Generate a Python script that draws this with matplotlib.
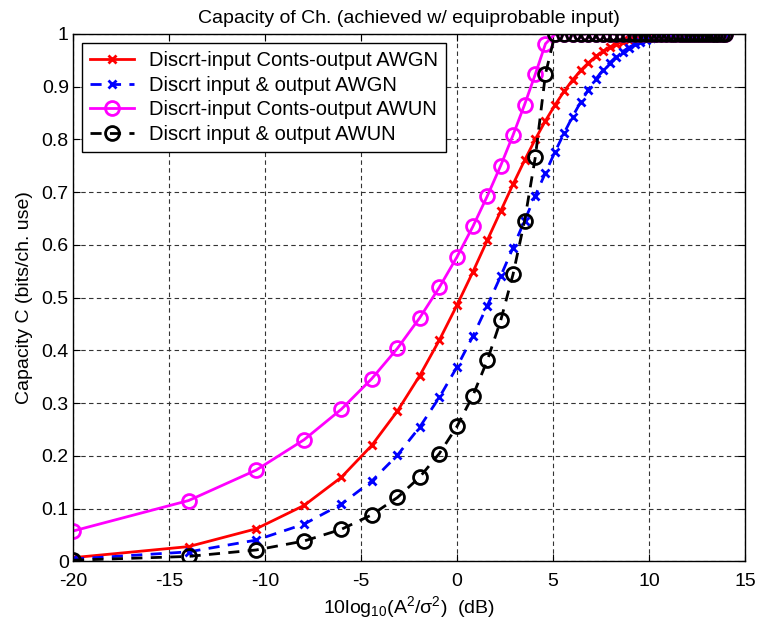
import matplotlib
matplotlib.use("Agg")
import matplotlib.pyplot as plt

plt.rcParams["font.family"] = ["Liberation Sans", "DejaVu Sans"]
plt.rcParams["mathtext.fontset"] = "custom"
plt.rcParams["mathtext.rm"] = "Liberation Sans"
plt.rcParams["mathtext.it"] = "Liberation Sans"
plt.rcParams["axes.unicode_minus"] = False

# SNR in dB, 10log10(A^2/sigma^2)
snr_db = [-20.00, -13.98, -10.46, -7.96, -6.02, -4.44, -3.10, -1.94, -0.92, 0.00,
          0.83, 1.58, 2.28, 2.92, 3.52, 4.08, 4.61, 5.11, 5.58, 6.02,
          6.44, 6.85, 7.23, 7.60, 7.96, 8.30, 8.63, 8.94, 9.25, 9.54,
          9.83, 10.10, 10.37, 10.63, 10.88, 11.13, 11.36, 11.60, 11.82, 12.04,
          12.26, 12.46, 12.67, 12.87, 13.06, 13.26, 13.44, 13.62, 13.80, 13.98]

# discrete input, continuous output, AWGN
cap_awgn_cont = [0.0072, 0.0282, 0.0619, 0.1063, 0.1597, 0.2200, 0.2853, 0.3523, 0.4195, 0.4859,
                 0.5491, 0.6090, 0.6645, 0.7151, 0.7604, 0.8005, 0.8355, 0.8656, 0.8913, 0.9128,
                 0.9308, 0.9455, 0.9575, 0.9671, 0.9748, 0.9808, 0.9855, 0.9891, 0.9920, 0.9941,
                 0.9957, 0.9969, 0.9978, 0.9984, 0.9989, 0.9992, 0.9995, 0.9996, 0.9997, 0.9998,
                 0.9999, 0.9999, 1.0, 1.0, 1.0, 1.0, 1.0, 1.0, 1.0, 1.0]

# discrete input & output, AWGN
cap_awgn_disc = [0.0046, 0.0182, 0.0405, 0.0709, 0.1086, 0.1524, 0.2016, 0.2548, 0.3110, 0.3688,
                 0.4271, 0.4848, 0.5412, 0.5950, 0.6461, 0.6935, 0.7370, 0.7768, 0.8122, 0.8434,
                 0.8707, 0.8943, 0.9145, 0.9314, 0.9455, 0.9572, 0.9667, 0.9743, 0.9804, 0.9852,
                 0.9889, 0.9918, 0.9940, 0.9956, 0.9969, 0.9978, 0.9984, 0.9989, 0.9992, 0.9995,
                 0.9997, 0.9998, 0.9999, 0.9999, 1.0, 1.0, 1.0, 1.0, 1.0, 1.0]

# discrete input, continuous output, AWUN
cap_awun_cont = [0.0577, 0.1155, 0.1732, 0.2309, 0.2887, 0.3464, 0.4041, 0.4619, 0.5196, 0.5774,
                 0.6351, 0.6928, 0.7506, 0.8083, 0.8660, 0.9238, 0.9815, 1.0, 1.0, 1.0,
                 1.0, 1.0, 1.0, 1.0, 1.0, 1.0, 1.0, 1.0, 1.0, 1.0,
                 1.0, 1.0, 1.0, 1.0, 1.0, 1.0, 1.0, 1.0, 1.0, 1.0,
                 1.0, 1.0, 1.0, 1.0, 1.0, 1.0, 1.0, 1.0, 1.0, 1.0]

# discrete input & output, AWUN
cap_awun_disc = [0.0024, 0.0096, 0.0218, 0.0388, 0.0610, 0.0884, 0.1213, 0.1599, 0.2046, 0.2560,
                 0.3146, 0.3812, 0.4572, 0.5443, 0.6454, 0.7664, 0.9242, 1.0, 1.0, 1.0,
                 1.0, 1.0, 1.0, 1.0, 1.0, 1.0, 1.0, 1.0, 1.0, 1.0,
                 1.0, 1.0, 1.0, 1.0, 1.0, 1.0, 1.0, 1.0, 1.0, 1.0,
                 1.0, 1.0, 1.0, 1.0, 1.0, 1.0, 1.0, 1.0, 1.0, 1.0]

labels = ["Discrt-input Conts-output AWGN",
          "Discrt input & output AWGN",
          "Discrt-input Conts-output AWUN",
          "Discrt input & output AWUN"]

fig = plt.figure(figsize=(7.58, 6.34), dpi=100)
ax = fig.add_axes([0.0963, 0.1144, 0.8865, 0.832])

ax.plot(snr_db, cap_awgn_cont, "r-x", lw=2, ms=6, mew=2, label=labels[0])
ax.plot(snr_db, cap_awgn_disc, "b--x", lw=2, ms=6, mew=2, label=labels[1], dashes=(4, 3))
ax.plot(snr_db, cap_awun_cont, "-o", color="#ff00ff", lw=2, ms=10, mew=2, mfc="none", label=labels[2])
ax.plot(snr_db, cap_awun_disc, "k--o", lw=2, ms=10, mew=2, mfc="none", label=labels[3], dashes=(4, 3))

ax.set_xlim(-20, 15)
ax.set_ylim(0, 1)
ax.set_xticks(range(-20, 16, 5))
ax.set_yticks([i / 10 for i in range(11)])
ax.set_yticklabels(["0", "0.1", "0.2", "0.3", "0.4", "0.5", "0.6", "0.7", "0.8", "0.9", "1"])
ax.tick_params(direction="in", top=True, right=True, labelsize=14, length=5)
ax.tick_params(axis="x", pad=8)
ax.tick_params(axis="y", pad=3)
ax.grid(True, color="#333333", linestyle=(0, (4, 3)), linewidth=0.8)
for s in ax.spines.values():
    s.set_linewidth(1)

ax.set_title("Capacity of Ch. (achieved w/ equiprobable input)", fontsize=14, pad=8)
ax.set_xlabel(r"10log$_{10}$(A$^2$/σ$^2$)  (dB)", fontsize=14, labelpad=3)
ax.set_ylabel("Capacity C (bits/ch. use)", fontsize=14, labelpad=6)

leg = ax.legend(loc="upper left", fontsize=14.5, fancybox=False, edgecolor="black",
                framealpha=1, borderaxespad=0.45, handlelength=2.2, labelspacing=0.28,
                borderpad=0.4, handletextpad=0.7)
leg.get_frame().set_linewidth(1)

fig.savefig("out.png", dpi=100)
